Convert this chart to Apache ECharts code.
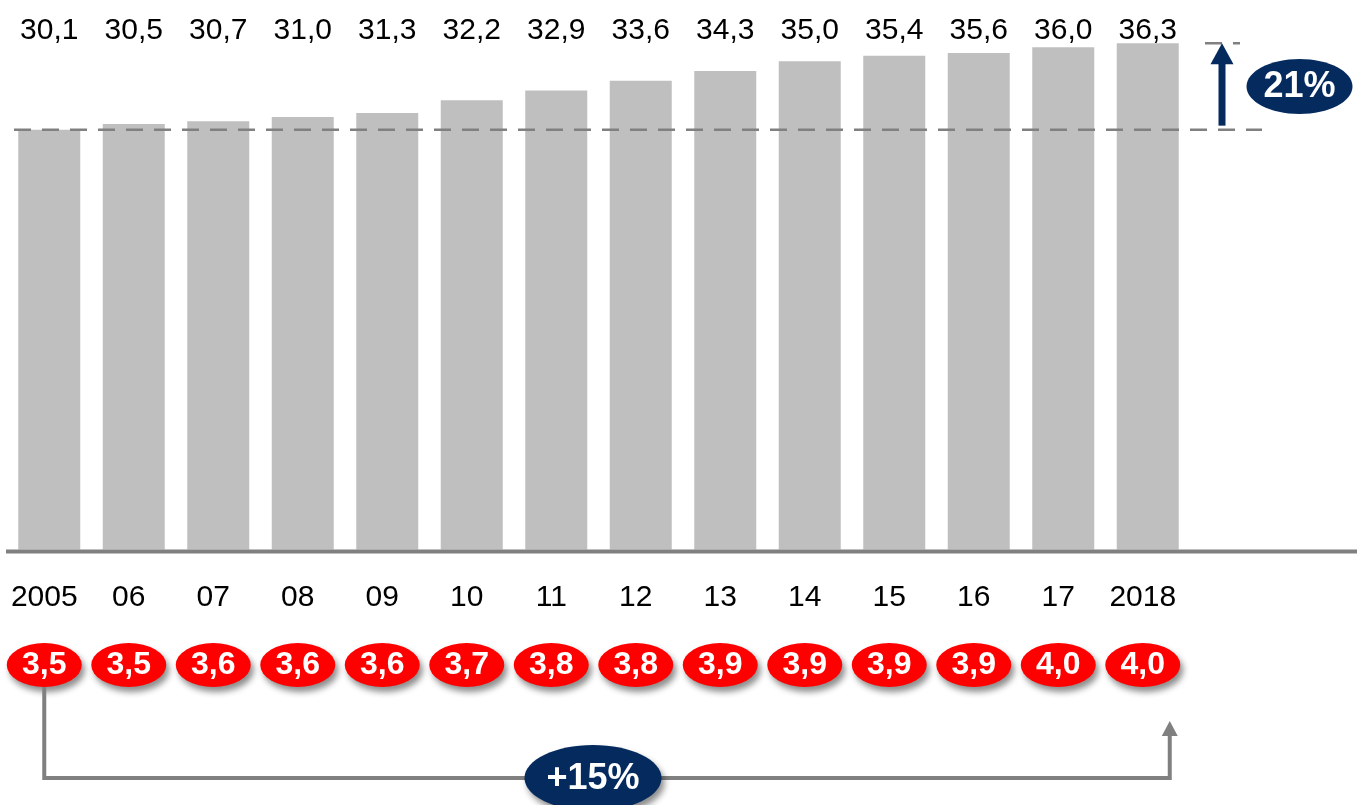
<!DOCTYPE html>
<html><head><meta charset="utf-8">
<script src="https://cdn.jsdelivr.net/npm/echarts@6/dist/echarts.min.js"></script>
<style>html,body{margin:0;padding:0;background:#fff}#c{width:1357px;height:805px}</style>
</head><body><div id="c"></div>
<script>
const years = ['2005','06','07','08','09','10','11','12','13','14','15','16','17','2018'];
const totals = [30.1,30.5,30.7,31.0,31.3,32.2,32.9,33.6,34.3,35.0,35.4,35.6,36.0,36.3];
const ratios = [3.5,3.5,3.6,3.6,3.6,3.7,3.8,3.8,3.9,3.9,3.9,3.9,4.0,4.0];
const growthTotal = '21%';
const growthRatio = '+15%';

const FONT = '"Liberation Sans", Arial, sans-serif';
const NAVY = '#042a5e';
const GREY = '#808080';
const fmt = v => v.toFixed(1).replace('.', ',');

const chart = echarts.init(document.getElementById('c'), null, {renderer: 'canvas'});
const option = {
  animation: false,
  backgroundColor: '#fff',
  grid: [
    {left: 7, width: 1183, top: 5.5, height: 544},
    {left: 2, width: 1183, top: 643, height: 44}
  ],
  xAxis: [
    {type: 'category', gridIndex: 0, data: years, axisLine: {show: false}, axisTick: {show: false}, axisLabel: {show: false}, splitLine: {show: false}},
    {type: 'category', gridIndex: 0, position: 'top', data: years, axisLine: {show: false}, axisTick: {show: false}, splitLine: {show: false},
     axisLabel: {inside: true, margin: 10, fontSize: 30, color: '#000', fontFamily: FONT, interval: 0,
       formatter: (v, i) => fmt(totals[i])}},
    {type: 'category', gridIndex: 1, position: 'top', data: years, axisLine: {show: false}, axisTick: {show: false}, splitLine: {show: false},
     axisLabel: {margin: 30, fontSize: 30, color: '#000', fontFamily: FONT, interval: 0}}
  ],
  yAxis: [
    {type: 'value', gridIndex: 0, min: 0, max: 39, show: false, splitLine: {show: false}},
    {type: 'category', gridIndex: 1, data: ['r'], show: false}
  ],
  series: [
    {type: 'bar', xAxisIndex: 0, yAxisIndex: 0, data: totals, barWidth: 62, silent: true,
     itemStyle: {color: '#bfbfbf'}},
    {type: 'scatter', xAxisIndex: 2, yAxisIndex: 1, silent: true,
     symbol: 'path://M0,50A50,50,0,1,1,100,50A50,50,0,1,1,0,50Z', symbolSize: [75, 44],
     data: ratios.map((r, i) => [i, 0, r]),
     itemStyle: {color: '#ff0000', opacity: 1, shadowBlur: 6, shadowColor: 'rgba(0,0,0,0.45)', shadowOffsetX: 3, shadowOffsetY: 5},
     label: {show: true, position: 'inside', formatter: p => fmt(p.value[2]), color: '#fff', fontWeight: 'bold', fontSize: 32, fontFamily: FONT}
    }
  ]
};
chart.setOption(option);

const y0 = chart.convertToPixel({yAxisIndex: 0}, 0);
const yBase = chart.convertToPixel({yAxisIndex: 0}, totals[0]);
const yTop = chart.convertToPixel({yAxisIndex: 0}, totals[totals.length - 1]);
const xE0 = chart.convertToPixel({xAxisIndex: 2}, 0);
const xE13 = chart.convertToPixel({xAxisIndex: 2}, years.length - 1);
const yE = chart.convertToPixel({yAxisIndex: 1}, 0);
const xEnd = xE13 + 27;
const yConn = 778;
const yMid = (yBase + yTop) / 2;

function label(text, x, y) {
  return {type: 'text', z: 110, x: x, y: y,
    style: {text: text, fill: '#fff', font: 'bold 36px ' + FONT, fontSize: 36, fontWeight: 'bold', fontFamily: FONT,
      align: 'center', verticalAlign: 'middle', textAlign: 'center', textVerticalAlign: 'middle'}};
}

chart.setOption({
  graphic: [
    {type: 'line', z: 100, shape: {x1: 6, y1: y0 + 2, x2: 1357, y2: y0 + 2}, style: {stroke: GREY, lineWidth: 4}},
    {type: 'line', z: 100, shape: {x1: 14, y1: yBase, x2: 1262, y2: yBase}, style: {stroke: GREY, lineWidth: 2.5, lineDash: [17, 11]}},
    {type: 'line', z: 100, shape: {x1: 1205, y1: yTop, x2: 1240, y2: yTop}, style: {stroke: GREY, lineWidth: 2.5, lineDash: [17, 11]}},
    {type: 'line', z: 101, shape: {x1: 1222, y1: yBase - 4, x2: 1222, y2: yTop + 20}, style: {stroke: NAVY, lineWidth: 7}},
    {type: 'polygon', z: 101, shape: {points: [[1210.5, yTop + 21], [1233.5, yTop + 21], [1222, yTop]]}, style: {fill: NAVY}},
    {type: 'ellipse', z: 101, shape: {cx: 1299.5, cy: yMid, rx: 53, ry: 27.5}, style: {fill: NAVY}},
    label(growthTotal, 1299.5, yMid + 1),
    {type: 'polyline', z: 100, shape: {points: [[xE0, yE + 22], [xE0, yConn], [xEnd, yConn], [xEnd, 736]]}, style: {stroke: GREY, lineWidth: 4, fill: null}},
    {type: 'polygon', z: 100, shape: {points: [[xEnd - 8, 736], [xEnd + 8, 736], [xEnd, 721]]}, style: {fill: GREY}},
    {type: 'ellipse', z: 102, shape: {cx: 593, cy: 778, rx: 68.5, ry: 33}, style: {fill: NAVY, shadowBlur: 6, shadowColor: 'rgba(0,0,0,0.45)', shadowOffsetX: 3, shadowOffsetY: 5}},
    label(growthRatio, 593, 779)
  ]
});
</script>
</body></html>
